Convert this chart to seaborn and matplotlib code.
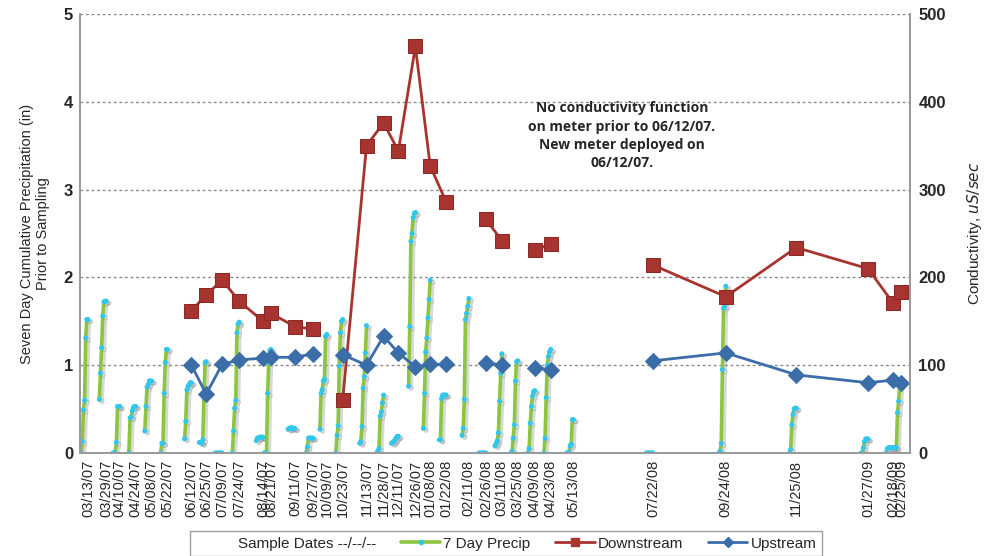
# -------------------------------------------------------
# Seven day precipitation vs. conductivity (upstream / downstream)
# -------------------------------------------------------
import pandas as pd
import matplotlib
matplotlib.use("Agg")
import matplotlib.pyplot as plt
import matplotlib.patheffects as pe
from matplotlib.lines import Line2D
import seaborn as sns

# sample dates (x ticks)
sample_dates = ["03/13/07", "03/29/07", "04/10/07", "04/24/07", "05/08/07", "05/22/07",
                "06/12/07", "06/25/07", "07/09/07", "07/24/07", "08/14/07", "08/21/07",
                "09/11/07", "09/27/07", "10/09/07", "10/23/07", "11/13/07", "11/28/07",
                "12/11/07", "12/26/07", "01/08/08", "01/22/08", "02/11/08", "02/26/08",
                "03/11/08", "03/25/08", "04/09/08", "04/23/08", "05/13/08", "07/22/08",
                "09/24/08", "11/25/08", "01/27/09", "02/18/09", "02/25/09"]

# cumulative precip (in) for the 7 days up to each sample date
precip_7day = [
    [0, 0.13, 0.49, 0.60, 1.31, 1.52, 1.52],
    [0.61, 0.91, 1.20, 1.56, 1.72, 1.73, 1.73],
    [0, 0, 0, 0.12, 0.53, 0.53, 0.53],
    [0, 0.40, 0.41, 0.48, 0.52, 0.53, 0.53],
    [0.25, 0.53, 0.75, 0.78, 0.82, 0.82, 0.82],
    [0, 0.11, 0.11, 0.68, 1.03, 1.18, 1.18],
    [0.16, 0.36, 0.72, 0.76, 0.78, 0.80, 0.80],
    [0.12, 0.12, 0.11, 0.15, 0.65, 1.03, 1.04],
    [0, 0, 0, 0, 0, 0, 0],
    [0, 0.25, 0.51, 0.60, 1.37, 1.47, 1.49],
    [0.14, 0.17, 0.17, 0.18, 0.18, 0.18, 0.18],
    [0, 0, 0, 0.68, 1.03, 1.17, 1.18],
    [0.27, 0.28, 0.28, 0.29, 0.28, 0.28, 0.28],
    [0, 0.07, 0.17, 0.17, 0.17, 0.17, 0.17],
    [0.27, 0.68, 0.72, 0.82, 0.84, 1.33, 1.35],
    [0, 0.20, 0.31, 0.99, 1.37, 1.50, 1.52],
    [0.11, 0.13, 0.30, 0.74, 0.87, 1.14, 1.45],
    [0, 0.02, 0.05, 0.42, 0.47, 0.57, 0.66],
    [0.11, 0.12, 0.13, 0.15, 0.17, 0.19, 0.19],
    [0.76, 1.44, 2.41, 2.50, 2.68, 2.73, 2.74],
    [0.28, 0.68, 1.15, 1.31, 1.54, 1.75, 1.97],
    [0.15, 0.15, 0.62, 0.66, 0.66, 0.66, 0.66],
    [0.20, 0.28, 0.61, 1.52, 1.59, 1.67, 1.76],
    [0, 0, 0, 0, 0, 0, 0],
    [0.08, 0.11, 0.14, 0.23, 0.59, 0.91, 1.13],
    [0, 0.02, 0.17, 0.32, 0.82, 1.04, 1.05],
    [0, 0.05, 0.34, 0.53, 0.65, 0.70, 0.71],
    [0, 0.17, 0.63, 1.00, 1.10, 1.15, 1.18],
    [0, 0, 0.01, 0.08, 0.10, 0.38, 0.38],
    [0, 0, 0, 0, 0, 0, 0],
    [0, 0.02, 0.11, 0.95, 1.65, 1.67, 1.90],
    [0, 0.04, 0.32, 0.44, 0.50, 0.51, 0.51],
    [0, 0, 0.06, 0.13, 0.16, 0.16, 0.16],
    [0, 0.05, 0.06, 0.06, 0.06, 0.06, 0.06],
    [0.06, 0.06, 0.06, 0.46, 0.59, 0.78, 0.83],
]

# conductivity (uS/sec), None = not measured
downstream = [None, None, None, None, None, None,
              162, 180, 197, 173, 150, 159,
              144, 141, None, 60, 350, 376,
              344, 463, 327, 286, None, 266,
              242, None, 231, 238, None, 214,
              178, 234, 210, 171, 183]
upstream = [None, None, None, None, None, None,
            100, 67, 101, 106, 108, 109,
            109, 113, None, 112, 100, 133,
            114, 98, 101, 101, None, 103,
            100, None, 97, 95, None, 105,
            114, 89, 80, 83, 80]

sns.set_style("white")
plt.rcParams["font.family"] = ["Liberation Sans", "DejaVu Sans"]

dates = pd.to_datetime(sample_dates, format="%m/%d/%y")

# daily precip table, one segment per sample
rows = []
for i, (d, vals) in enumerate(zip(dates, precip_7day)):
    for k, v in enumerate(vals):
        rows.append({"date": d - pd.Timedelta(days=6 - k), "precip": v, "seg": i})
precip_df = pd.DataFrame(rows)

cond_df = pd.DataFrame({"date": dates,
                        "Downstream": pd.to_numeric(pd.Series(downstream), errors="coerce"),
                        "Upstream": pd.to_numeric(pd.Series(upstream), errors="coerce")})


def runs(col):
    # split a series at missing values so the line breaks there
    d = cond_df[["date", col]].copy()
    d["run"] = d[col].isna().cumsum()
    return d.dropna()


GREEN = "#8cc63e"
CYAN = "#2fc8ec"
RED = "#a8342f"
BLUE = "#3b6ea8"

fig = plt.figure(figsize=(9.84, 5.56), dpi=100)
ax = fig.add_axes([0.0813, 0.1853, 0.8435, 0.7895])
ax2 = ax.twinx()

shadow = [pe.SimpleLineShadow(offset=(2, -1.5), shadow_color="0.5", alpha=0.3), pe.Normal()]
sns.lineplot(data=precip_df, x="date", y="precip", units="seg", estimator=None, ax=ax,
             color=GREEN, lw=2.6, marker="o", ms=2.8, mfc=CYAN, mec=CYAN,
             path_effects=shadow, legend=False)

sns.lineplot(data=runs("Downstream"), x="date", y="Downstream", units="run", estimator=None,
             ax=ax2, color=RED, lw=2, marker="s", ms=9.5, mfc=RED, mec="#8a2a26",
             legend=False)
sns.lineplot(data=runs("Upstream"), x="date", y="Upstream", units="run", estimator=None,
             ax=ax2, color=BLUE, lw=2, marker="D", ms=8, mfc=BLUE, mec=BLUE,
             legend=False)

# axes
ax.set_xlim(pd.Timestamp("2007-03-06"), pd.Timestamp("2009-03-05"))
ax.set_ylim(0, 5)
ax2.set_ylim(0, 500)
ax.set_xticks(dates)
ax.set_xticklabels(sample_dates, rotation=90, fontsize=10.5)
ax.set_yticks(range(0, 6))
ax.set_yticklabels([str(v) for v in range(0, 6)], fontsize=12, fontweight="bold")
ax2.set_yticks(range(0, 501, 100))
ax2.set_yticklabels([str(v) for v in range(0, 501, 100)], fontsize=12, fontweight="bold")
ax.tick_params(axis="both", length=0, pad=5)
ax2.tick_params(axis="y", length=0, pad=6)
ax.set_xlabel("")
ax.set_ylabel("Seven Day Cumulative Precipitation (in)\nPrior to Sampling", fontsize=10.5,
              labelpad=10)
ax2.set_ylabel(r"Conductivity, $\it{uS/sec}$", fontsize=11, labelpad=14)

ax.yaxis.grid(True, ls=(0, (2, 2)), color="#8a8a8a", lw=1)
ax.xaxis.grid(False)
for a in (ax, ax2):
    a.spines["top"].set_visible(False)
    for s in ("left", "right", "bottom"):
        a.spines[s].set_color("#999999")
        a.spines[s].set_linewidth(1.2)

fig.text(0.632, 0.818, "No conductivity function\non meter prior to 06/12/07.\n"
         "New meter deployed on\n06/12/07.", ha="center", va="top", fontsize=10,
         fontweight="bold", family="Open Sans", linespacing=1.4)

handles = [Line2D([], [], color="none"),
           Line2D([], [], color=GREEN, lw=2.6, marker="o", ms=3, mfc=CYAN, mec=CYAN),
           Line2D([], [], color=RED, lw=2, marker="s", ms=6, mfc=RED, mec=RED),
           Line2D([], [], color=BLUE, lw=2, marker="D", ms=5, mfc=BLUE, mec=BLUE)]
labels = ["Sample Dates --/--/--", "7 Day Precip", "Downstream", "Upstream"]
fig.legend(handles, labels, loc="lower center", bbox_to_anchor=(0.514, -0.014), ncol=4,
           frameon=True, fancybox=False, edgecolor="#888888", fontsize=11,
           handlelength=2.6, handletextpad=0.2, columnspacing=1.6, borderpad=0.35)

fig.savefig("out.png", dpi=100)
